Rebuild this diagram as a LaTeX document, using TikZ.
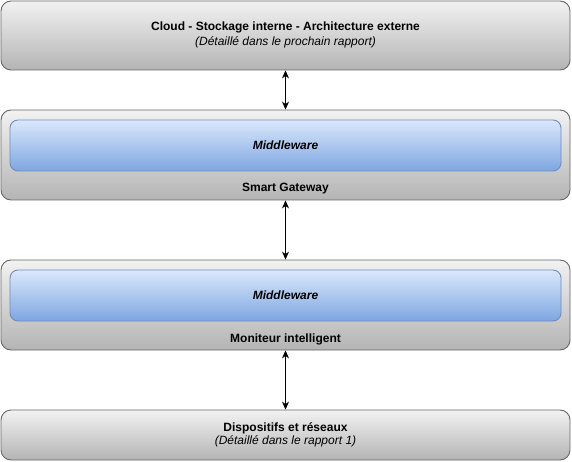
\documentclass[tikz,border=0pt]{standalone}
\usepackage{fontspec}
\setmainfont{Liberation Sans}
\usetikzlibrary{arrows.meta}
\definecolor{greytop}{RGB}{242,242,242}
\definecolor{greybot}{RGB}{180,180,180}
\definecolor{greyline}{RGB}{102,102,102}
\definecolor{bluetop}{RGB}{218,232,252}
\definecolor{bluebot}{RGB}{126,166,224}
\definecolor{blueline}{RGB}{108,142,191}

\begin{document}
\begin{tikzpicture}[x=1pt,y=-1pt,
    layer/.style={draw=greyline, line width=0.9pt, rounded corners=10pt,
      top color=greytop, bottom color=greybot, minimum width=569pt},
    midbox/.style={draw=blueline, line width=0.9pt, rounded corners=8pt,
      top color=bluetop, bottom color=bluebot, minimum width=551pt, minimum height=51pt},
    title/.style={font=\fontsize{12}{14}\selectfont\bfseries},
    note/.style={font=\fontsize{12}{14}\selectfont\itshape},
    midtext/.style={font=\fontsize{12}{14}\selectfont\bfseries\itshape},
    link/.style={{Stealth[length=8pt,width=7pt]}-{Stealth[length=8pt,width=7pt]}, line width=0.8pt}]
  \useasboundingbox (0,0) rectangle (572,462);

  % Cloud
  \node[layer, minimum height=69pt] (cloud) at (285.5,35.5) {};
  \node[title] (cloudtitle) at (285.5,27) {Cloud - Stockage interne - Architecture externe};
  \node[note] (cloudnote) at (285.5,42) {(Détaillé dans le prochain rapport)};

  % Smart Gateway
  \node[layer, minimum height=90pt] (gateway) at (285.5,155) {};
  \node[midbox] (gwmiddle) at (285.5,145.5) {};
  \node[midtext] (gwmidtext) at (285.5,145.5) {Middleware};
  \node[title] (gwtitle) at (285.5,189) {Smart Gateway};

  % Moniteur intelligent
  \node[layer, minimum height=90pt] (monitor) at (285.5,305) {};
  \node[midbox] (monmiddle) at (285.5,295.5) {};
  \node[midtext] (monmidtext) at (285.5,295.5) {Middleware};
  \node[title] (montitle) at (285.5,339) {Moniteur intelligent};

  % Dispositifs
  \node[layer, minimum height=50pt] (devices) at (285.5,435) {};
  \node[title] (devtitle) at (285.5,428) {Dispositifs et réseaux};
  \node[note] (devnote) at (285.5,441) {(Détaillé dans le rapport 1)};

  % Liaisons
  \draw[link] (cloud.south) -- (gateway.north);
  \draw[link] (gateway.south) -- (monitor.north);
  \draw[link] (monitor.south) -- (devices.north);
\end{tikzpicture}
\end{document}
